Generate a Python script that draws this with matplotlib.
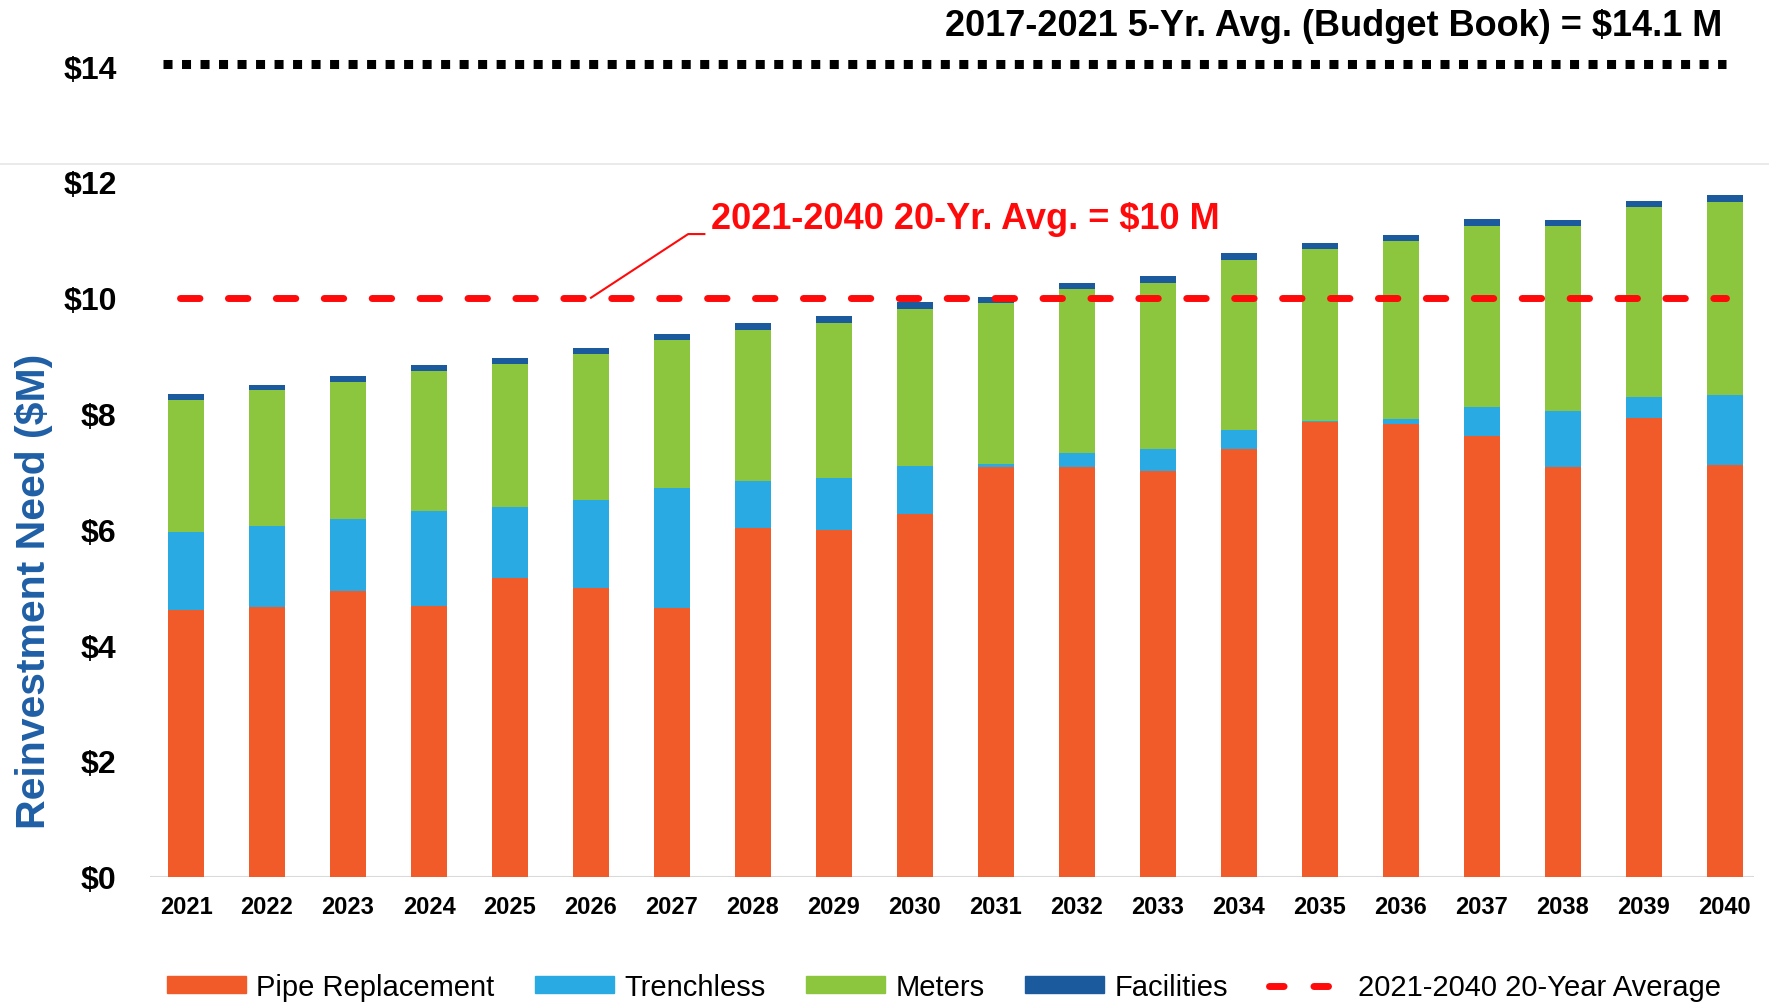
import matplotlib
matplotlib.use("Agg")
import matplotlib.pyplot as plt
from matplotlib.patches import Patch
from matplotlib.lines import Line2D
import numpy as np

plt.rcParams['font.family'] = ['Liberation Sans', 'DejaVu Sans']

years = [str(y) for y in range(2021, 2041)]
pipe = [4.61, 4.65, 4.93, 4.67, 5.16, 4.99, 4.64, 6.03, 5.99, 6.27,
        7.07, 7.08, 7.01, 7.39, 7.85, 7.82, 7.62, 7.07, 7.92, 7.11]
trenchless = [1.34, 1.41, 1.25, 1.65, 1.22, 1.51, 2.07, 0.81, 0.90, 0.82,
              0.06, 0.24, 0.38, 0.32, 0.02, 0.08, 0.50, 0.97, 0.37, 1.21]
meters = [2.29, 2.34, 2.37, 2.42, 2.47, 2.53, 2.56, 2.61, 2.67, 2.72,
          2.78, 2.83, 2.87, 2.95, 2.98, 3.08, 3.12, 3.20, 3.28, 3.34]
facilities = [0.09, 0.09, 0.10, 0.10, 0.11, 0.10, 0.10, 0.11, 0.12, 0.11,
              0.11, 0.11, 0.12, 0.12, 0.10, 0.11, 0.12, 0.11, 0.10, 0.12]
avg_20yr = 10.0
avg_5yr = 14.1
yticks = [0, 2, 4, 6, 8, 10, 12, 14]
ytick_labels = ["$0", "$2", "$4", "$6", "$8", "$10", "$12", "$14"]

c_pipe = '#F15A29'
c_tr = '#2AAAE2'
c_met = '#8CC63F'
c_fac = '#1C5A9E'
c_red = '#FF0A0A'

W, H = 1769, 1004
fig = plt.figure(figsize=(W / 100, H / 100), dpi=100)
ax = fig.add_axes([150 / W, (H - 877.7) / H, (1754 - 150) / W, 877.7 / H])

x = np.arange(len(years))
bw = 0.45
b1 = np.array(pipe)
b2 = b1 + np.array(trenchless)
b3 = b2 + np.array(meters)
ax.bar(x, pipe, bw, color=c_pipe, zorder=2)
ax.bar(x, trenchless, bw, bottom=b1, color=c_tr, zorder=2)
ax.bar(x, meters, bw, bottom=b2, color=c_met, zorder=2)
ax.bar(x, facilities, bw, bottom=b3, color=c_fac, zorder=2)

ax.set_xlim(-0.445, 19.36)
ax.set_ylim(0, 15.16)

for s in ax.spines.values():
    s.set_visible(False)
ax.axhline(0, color='#d9d9d9', lw=1.5, zorder=1)

# 20-year average red dashed line
ax.plot([-0.07, 19.01], [avg_20yr, avg_20yr], color=c_red, lw=5,
        linestyle=(0, (2.8, 4.1)), dash_capstyle='round', zorder=4)
# 5-year average black dotted line
ax.plot([-0.28, 19.01], [avg_5yr - 0.06, avg_5yr - 0.06], color='black', lw=6.5,
        linestyle=(0, (1, 1.05)), dash_capstyle='butt', zorder=4)

# annotation
ax.plot([5.0, 6.2, 6.4], [avg_20yr, 11.1, 11.1], color=c_red, lw=1.5, zorder=4)
ax.text(6.48, 11.37, "2021-2040 20-Yr. Avg. = $10 M", color=c_red,
        fontsize=26, fontweight='bold', ha='left', va='center', zorder=5)

fig.text(1722.7 / W, 1 - 26 / H, "2017-2021 5-Yr. Avg. (Budget Book) = $14.1 M",
         fontsize=26, fontweight='bold', ha='right', va='center', color='black')

ax.set_xticks(x)
ax.set_xticklabels(years, fontsize=17, fontweight='bold')
ax.set_yticks(yticks)
ax.set_yticklabels(ytick_labels, fontsize=23, fontweight='bold')
ax.tick_params(axis='both', length=0)
ax.tick_params(axis='x', pad=13)
ax.tick_params(axis='y', pad=24)
for lbl in ax.get_yticklabels():
    if lbl.get_text() == "$14":
        lbl.set_y(14.05)

fig.text(34 / W, 1 - 591 / H, "Reinvestment Need ($M)", rotation=90,
         fontsize=29.5, fontweight='heavy', color='#1F5FA5', ha='center', va='center')

# faint separator line
fig.add_artist(Line2D([0, 1], [1 - 165 / H, 1 - 165 / H], transform=fig.transFigure,
                      color='#e6e6e6', lw=1.2))

handles = [Patch(color=c_pipe), Patch(color=c_tr), Patch(color=c_met), Patch(color=c_fac),
           Line2D([0], [0], color=c_red, lw=5, linestyle=(0, (2.1, 4.3)), dash_capstyle='round')]
labels = ["Pipe Replacement", "Trenchless", "Meters", "Facilities", "2021-2040 20-Year Average"]
fig.legend(handles, labels, loc='center', bbox_to_anchor=(944 / W, 1 - 988 / H), ncol=5,
           frameon=False, fontsize=21, handlelength=2.7, handleheight=0.5,
           handletextpad=0.35, columnspacing=1.4, borderaxespad=0, borderpad=0)

fig.savefig("out.png", dpi=100)
